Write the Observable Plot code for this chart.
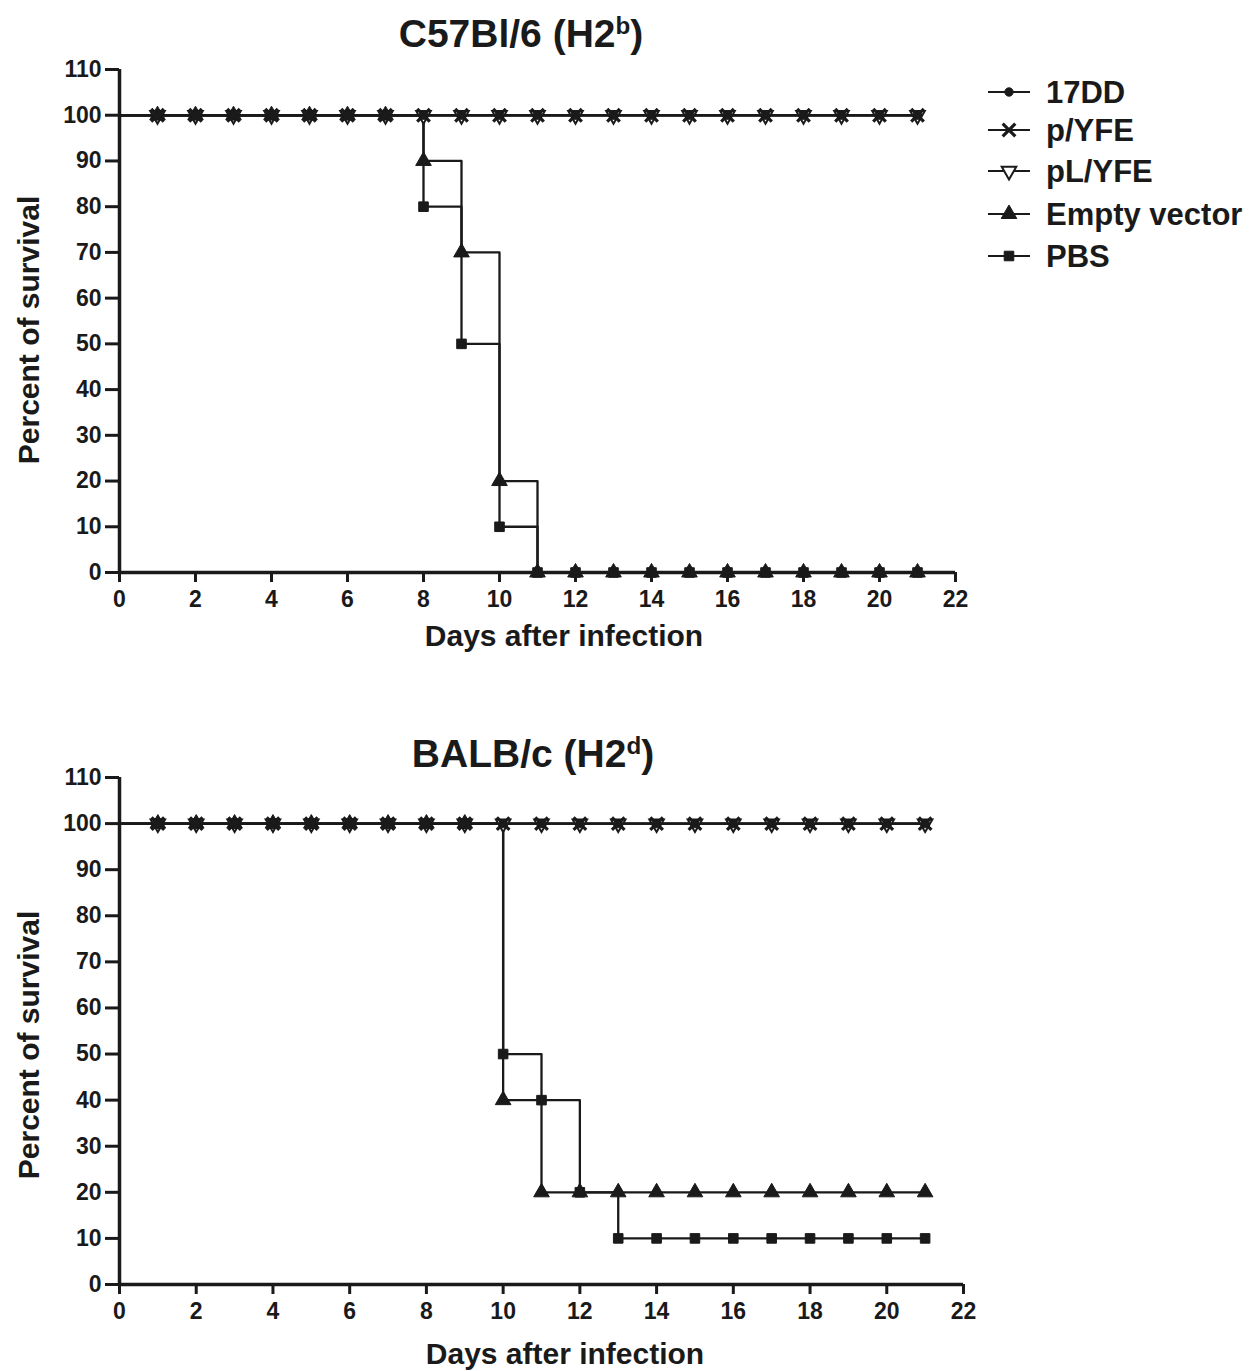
<!DOCTYPE html>
<html>
<head>
<meta charset="utf-8">
<script src="https://cdn.jsdelivr.net/npm/d3@7"></script>
<script src="https://cdn.jsdelivr.net/npm/@observablehq/plot@0.6"></script>
<style>
  html, body { margin: 0; padding: 0; background: #fff; }
  #wrap { position: relative; width: 1249px; height: 1371px; background: #fff; overflow: hidden;
          font-family: "Liberation Sans", Arial, Helvetica, sans-serif; font-weight: bold; color: #1a1a1a; }
  .abs { position: absolute; white-space: nowrap; line-height: 1; }
  .title { font-size: 39px; width: 600px; text-align: center; }
  .title sup { font-size: 0.62em; vertical-align: 0; position: relative; top: -0.55em; }
  .xlab { font-size: 30px; width: 600px; text-align: center; }
  .ylab { font-size: 30px; width: 400px; text-align: center; transform: rotate(-90deg); }
  svg { position: absolute; }
</style>
</head>
<body>
<div id="wrap">
  <div class="abs title" style="left:221px; top:14px;">C57Bl/6 (H2<sup>b</sup>)</div>
  <div class="abs title" style="left:233px; top:734px;">BALB/c (H2<sup>d</sup>)</div>
  <div class="abs xlab" style="left:264px; top:621px;">Days after infection</div>
  <div class="abs xlab" style="left:265px; top:1339px;">Days after infection</div>
  <div class="abs ylab" style="left:-171px; top:315px;">Percent of survival</div>
  <div class="abs ylab" style="left:-171px; top:1030px;">Percent of survival</div>
</div>
<script>
// ---- Data ----
const days = [0,1,2,3,4,5,6,7,8,9,10,11,12,13,14,15,16,17,18,19,20,21];
const xTicks = [0,2,4,6,8,10,12,14,16,18,20,22];
const yTicks = [0,10,20,30,40,50,60,70,80,90,100,110];
const seriesNames = ["17DD", "p/YFE", "pL/YFE", "Empty vector", "PBS"];

// C57Bl/6 (H2b)
const c57_17DD   = [100,100,100,100,100,100,100,100,100,100,100,100,100,100,100,100,100,100,100,100,100,100];
const c57_pYFE   = [100,100,100,100,100,100,100,100,100,100,100,100,100,100,100,100,100,100,100,100,100,100];
const c57_pLYFE  = [100,100,100,100,100,100,100,100,100,100,100,100,100,100,100,100,100,100,100,100,100,100];
const c57_empty  = [100,100,100,100,100,100,100,100,90,70,20,0,0,0,0,0,0,0,0,0,0,0];
const c57_pbs    = [100,100,100,100,100,100,100,100,80,50,10,0,0,0,0,0,0,0,0,0,0,0];

// BALB/c (H2d)
const balb_17DD  = [100,100,100,100,100,100,100,100,100,100,100,100,100,100,100,100,100,100,100,100,100,100];
const balb_pYFE  = [100,100,100,100,100,100,100,100,100,100,100,100,100,100,100,100,100,100,100,100,100,100];
const balb_pLYFE = [100,100,100,100,100,100,100,100,100,100,100,100,100,100,100,100,100,100,100,100,100,100];
const balb_empty = [100,100,100,100,100,100,100,100,100,100,40,20,20,20,20,20,20,20,20,20,20,20];
const balb_pbs   = [100,100,100,100,100,100,100,100,100,100,50,40,20,10,10,10,10,10,10,10,10,10];

// ---- Symbols ----
const triangleDown = {
  draw(context, size) {
    const s3 = Math.sqrt(3);
    const y = -Math.sqrt(size / (s3 * 3));
    context.moveTo(0, -y * 2);
    context.lineTo(-s3 * y, y);
    context.lineTo(s3 * y, y);
    context.closePath();
  }
};
const ink = "#1a1a1a";
const symbolStyle = {
  "17DD":        {symbol: "circle",   fill: ink,    stroke: ink, r: 4.2, strokeWidth: 1},
  "p/YFE":       {symbol: "times",    fill: "none", stroke: ink, r: 5.8, strokeWidth: 3.2},
  "pL/YFE":      {symbol: triangleDown, fill: "white", stroke: ink, r: 5.4, strokeWidth: 2},
  "Empty vector":{symbol: "triangle", fill: ink,    stroke: ink, r: 5.8, strokeWidth: 1},
  "PBS":         {symbol: "square",   fill: ink,    stroke: ink, r: 5.4, strokeWidth: 1}
};
// drawing order (bottom to top)
const drawOrder = ["pL/YFE", "Empty vector", "PBS", "p/YFE", "17DD"];

function toTable(arrays) {
  const rows = [];
  arrays.forEach((vals, i) => {
    vals.forEach((v, j) => rows.push({series: seriesNames[i], day: days[j], value: v}));
  });
  return rows;
}

function chart(arrays, opts) {
  const data = toTable(arrays);
  const dotMarks = drawOrder.map(name => {
    const st = symbolStyle[name];
    return Plot.dot(data.filter(d => d.series === name && d.day > 0), {
      x: "day", y: "value", symbol: st.symbol, r: st.r,
      fill: st.fill, stroke: st.stroke, strokeWidth: st.strokeWidth
    });
  });
  return Plot.plot({
    width: opts.width, height: opts.height,
    marginLeft: 119, marginRight: opts.marginRight, marginTop: opts.marginTop, marginBottom: opts.marginBottom,
    x: {domain: [0, 22]},
    y: {domain: [0, 110]},
    style: {fontFamily: '"Liberation Sans", Arial, Helvetica, sans-serif', fontSize: "23px", fontWeight: "bold",
            color: ink, background: "transparent", overflow: "visible"},
    marks: [
      Plot.axisX({ticks: xTicks, tickSize: 10, tickPadding: 8, strokeWidth: 3, label: null, fill: ink}),
      Plot.axisY({ticks: yTicks, tickSize: 14, tickPadding: 4, strokeWidth: 3, label: null, fill: ink}),
      Plot.line(data, {x: "day", y: "value", z: "series", curve: "step-after", stroke: ink, strokeWidth: 2.3}),
      ...dotMarks,
      Plot.ruleY([0], {stroke: ink, strokeWidth: 3.5}),
      Plot.ruleX([0], {stroke: ink, strokeWidth: 3.5})
    ]
  });
}

const wrap = document.getElementById("wrap");

const topChart = chart([c57_17DD, c57_pYFE, c57_pLYFE, c57_empty, c57_pbs],
  {width: 990, height: 680, marginRight: 35, marginTop: 69, marginBottom: 108});
topChart.style.left = "0px"; topChart.style.top = "0px";
wrap.appendChild(topChart);

const bottomChart = chart([balb_17DD, balb_pYFE, balb_pLYFE, balb_empty, balb_pbs],
  {width: 1000, height: 671, marginRight: 37, marginTop: 77, marginBottom: 87});
bottomChart.style.left = "0px"; bottomChart.style.top = "700px";
wrap.appendChild(bottomChart);

// ---- Legend ----
const legendY = [92, 130, 171, 214, 256];
const ns = "http://www.w3.org/2000/svg";
const leg = document.createElementNS(ns, "svg");
leg.setAttribute("width", 269); leg.setAttribute("height", 230);
leg.style.left = "980px"; leg.style.top = "50px";
wrap.appendChild(leg);
seriesNames.forEach((name, i) => {
  const cy = legendY[i] - 50;
  const line = document.createElementNS(ns, "line");
  line.setAttribute("x1", 8); line.setAttribute("x2", 50);
  line.setAttribute("y1", cy); line.setAttribute("y2", cy);
  line.setAttribute("stroke", ink); line.setAttribute("stroke-width", 2);
  leg.appendChild(line);
  const st = symbolStyle[name];
  const symType = typeof st.symbol === "string"
    ? {circle: d3.symbolCircle, times: d3.symbolTimes, triangle: d3.symbolTriangle, square: d3.symbolSquare}[st.symbol]
    : st.symbol;
  const p = document.createElementNS(ns, "path");
  p.setAttribute("d", d3.symbol(symType, Math.PI * st.r * st.r)());
  p.setAttribute("transform", `translate(29,${cy})`);
  p.setAttribute("fill", st.fill); p.setAttribute("stroke", st.stroke);
  p.setAttribute("stroke-width", st.strokeWidth);
  leg.appendChild(p);
  const t = document.createElementNS(ns, "text");
  t.setAttribute("x", 66); t.setAttribute("y", cy);
  t.setAttribute("dy", "0.36em");
  t.setAttribute("font-family", '"Liberation Sans", Arial, Helvetica, sans-serif');
  t.setAttribute("font-weight", "bold");
  t.setAttribute("font-size", 31);
  t.setAttribute("fill", ink);
  t.textContent = name;
  leg.appendChild(t);
});
</script>
</body>
</html>
